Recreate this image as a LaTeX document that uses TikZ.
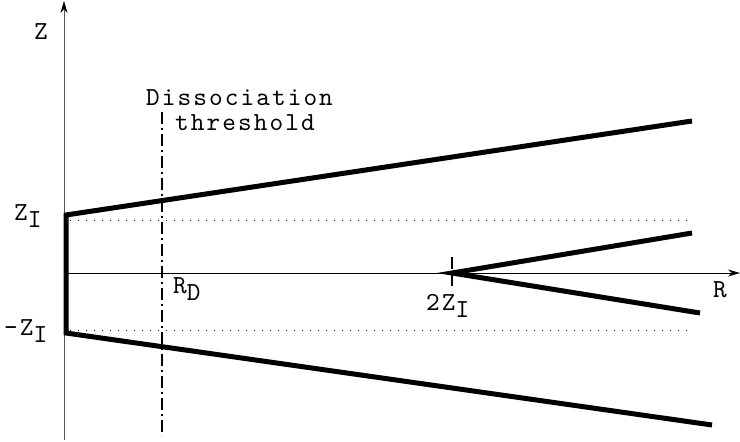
\documentclass[tikz,border=0pt]{standalone}
\usepackage{fontspec}
\setmonofont{lmmono10-regular}[Extension=.otf, LetterSpace=8]
\usetikzlibrary{arrows.meta}
\newcommand{\lowr}[1]{\raisebox{-7pt}{#1}}
\begin{document}
\begin{tikzpicture}[x=1pt, y=-1pt,
  font=\fontsize{26}{30}\ttfamily\selectfont,
  axis/.style={line width=0.9pt, -{Stealth[length=12pt, width=7pt, black]}},
  heavy/.style={line width=5pt, line cap=butt, line join=miter},
  guide/.style={line width=0.9pt, dash pattern=on 1pt off 7pt},
  thresh/.style={line width=1.8pt, dash pattern=on 12pt off 4pt on 2pt off 4pt},
  tick/.style={line width=1.8pt, dash pattern=on 12pt off 5pt},
  lbl/.style={inner sep=0pt, anchor=base west}
]
  \useasboundingbox (0,0) rectangle (740,442);
  % axes
  \coordinate (zbot)  at (64,440);
  \coordinate (ztop)  at (64,1);
  \coordinate (rleft) at (64,273);
  \coordinate (rend)  at (740,273);
  \draw[axis, gray!70!black] (zbot) -- (ztop);
  \draw[axis] (rleft) -- (rend);
  % corner points
  \coordinate (zi)   at (66,215);
  \coordinate (mzi)  at (66,333);
  \coordinate (upend) at (692,121);
  \coordinate (loend) at (712,425);
  \coordinate (fork)  at (452,273);
  \coordinate (fup)   at (692,233);
  \coordinate (flo)   at (700,313);
  % dotted levels
  \coordinate (dota) at (70,220);  \coordinate (dotb) at (694,220);
  \coordinate (dotc) at (70,330);  \coordinate (dotd) at (694,330);
  \draw[guide] (dota) -- (dotb);
  \draw[guide] (dotc) -- (dotd);
  % threshold and tick
  \coordinate (rdtop) at (162,112);
  \coordinate (rdbot) at (162,436);
  \draw[thresh] (rdtop) -- (rdbot);
  \coordinate (tktop) at (452,257);
  \coordinate (tkbot) at (452,291);
  \draw[tick] (tktop) -- (tkbot);
  % curves
  \draw[heavy] (upend) -- (zi) -- (mzi) -- (loend);
  \draw[heavy] (fup) -- (fork) -- (flo);
  % labels
  \node[lbl] (zlab)   at (34,39)   {Z};
  \node[lbl] (zilab)  at (14,220)  {Z\lowr{I}};
  \node[lbl] (mzilab) at (4,335)   {-Z\lowr{I}};
  \node[lbl] (rdlab)  at (173,293) {R\lowr{D}};
  \node[lbl] (tzilab) at (426,310) {2Z\lowr{I}};
  \node[lbl] (rlab)   at (713,297) {R};
  \node[lbl] (thlab1) at (146,105) {Dissociation};
  \node[lbl] (thlab2) at (175,130) {threshold};
\end{tikzpicture}
\end{document}
